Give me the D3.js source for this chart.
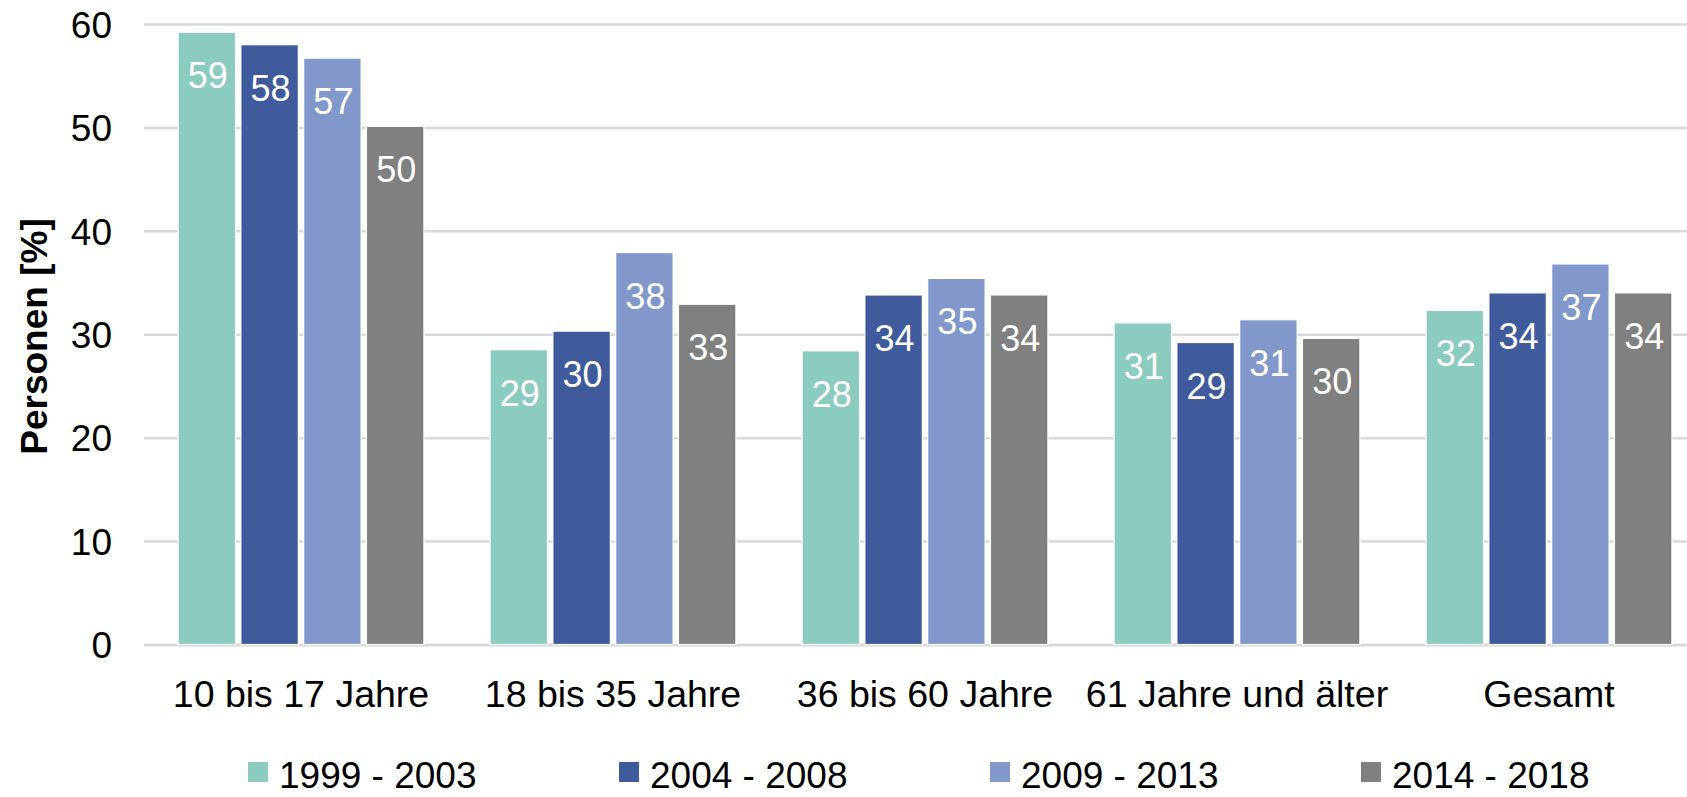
<!DOCTYPE html>
<html>
<head>
<meta charset="utf-8">
<script src="https://cdn.jsdelivr.net/npm/d3@7"></script>
<style>
  html, body { margin: 0; padding: 0; background: #fff; overflow: hidden; }
  svg { display: block; font-family: "Liberation Sans", Arial, sans-serif; }
</style>
</head>
<body>
<svg id="chart" width="1687" height="797"></svg>
<script>
const categories = ["10 bis 17 Jahre", "18 bis 35 Jahre", "36 bis 60 Jahre", "61 Jahre und älter", "Gesamt"];
const seriesNames = ["1999 - 2003", "2004 - 2008", "2009 - 2013", "2014 - 2018"];
const seriesColors = ["#8CCBC0", "#3F5B9C", "#8298CB", "#808080"];
const s1999 = [59.2, 28.5, 28.4, 31.1, 32.3];
const s2004 = [58.0, 30.3, 33.8, 29.2, 34.0];
const s2009 = [56.7, 37.9, 35.4, 31.4, 36.8];
const s2014 = [50.1, 32.9, 33.8, 29.6, 34.0];
const yTicks = [0, 10, 20, 30, 40, 50, 60];
const yTitle = "Personen [%]";

const seriesValues = [s1999, s2004, s2009, s2014];
const W = 1687, H = 797;
const plotLeft = 144, plotRight = 1705, plotTop = 24, plotBottom = 644.5;
const svg = d3.select("#chart");

const x0 = d3.scaleBand().domain(categories).range([145, plotRight]).padding(0);
const x1 = d3.scaleBand().domain(seriesNames).range([0, x0.bandwidth()])
  .paddingInner(0.085).paddingOuter(0.527);
const y = d3.scaleLinear().domain([0, 60]).range([plotBottom, plotTop]);

// gridlines + y tick labels
const yAxis = d3.axisLeft(y).tickValues(yTicks).tickSize(-(plotRight - plotLeft)).tickPadding(32).tickFormat(d3.format("d"));
const gy = svg.append("g").attr("transform", `translate(${plotLeft},0)`).call(yAxis);
gy.select(".domain").remove();
gy.selectAll(".tick line").attr("stroke", "#D9D9D9").attr("stroke-width", d => d === 0 ? 3 : 2.5);
gy.selectAll(".tick text").attr("font-size", 37).attr("fill", "#000").attr("dy", "0.36em")
  .attr("font-family", "'Liberation Sans', Arial, sans-serif");

// bars
const data = [];
categories.forEach((c, ci) => {
  seriesNames.forEach((s, si) => {
    data.push({ cat: c, series: s, value: seriesValues[si][ci], color: seriesColors[si] });
  });
});

const bars = svg.append("g");
bars.selectAll("rect").data(data).join("rect")
  .attr("x", d => x0(d.cat) + x1(d.series))
  .attr("y", d => y(d.value))
  .attr("width", x1.bandwidth())
  .attr("height", d => y(0) - y(d.value))
  .attr("fill", d => d.color)
  .attr("stroke", "#fff").attr("stroke-width", 1.2);

// value labels
svg.append("g").selectAll("text").data(data).join("text")
  .attr("x", d => x0(d.cat) + x1(d.series) + x1.bandwidth() / 2 + 1)
  .attr("y", d => y(d.value) + 56)
  .attr("text-anchor", "middle")
  .attr("font-size", 36)
  .attr("fill", "#fff")
  .text(d => Math.round(d.value));

// x axis labels
svg.append("g").selectAll("text").data(categories).join("text")
  .attr("x", d => x0(d) + x0.bandwidth() / 2)
  .attr("y", 706.5)
  .attr("text-anchor", "middle")
  .attr("font-size", 37.5)
  .attr("fill", "#000")
  .text(d => d);

// y title
svg.append("text")
  .attr("transform", "translate(46.5,336.5) rotate(-90)")
  .attr("text-anchor", "middle")
  .attr("font-size", 37)
  .attr("font-weight", "bold")
  .attr("fill", "#000")
  .text(yTitle);

// legend
const lg = svg.append("g").selectAll("g").data(seriesNames).join("g")
  .attr("transform", (d, i) => `translate(${248 + i * 371},762)`);
lg.append("rect").attr("width", 20).attr("height", 20).attr("fill", (d, i) => seriesColors[i]);
lg.append("text").attr("x", 31).attr("y", 26)
  .attr("font-size", 37).attr("fill", "#000").text(d => d);
</script>
</body>
</html>
